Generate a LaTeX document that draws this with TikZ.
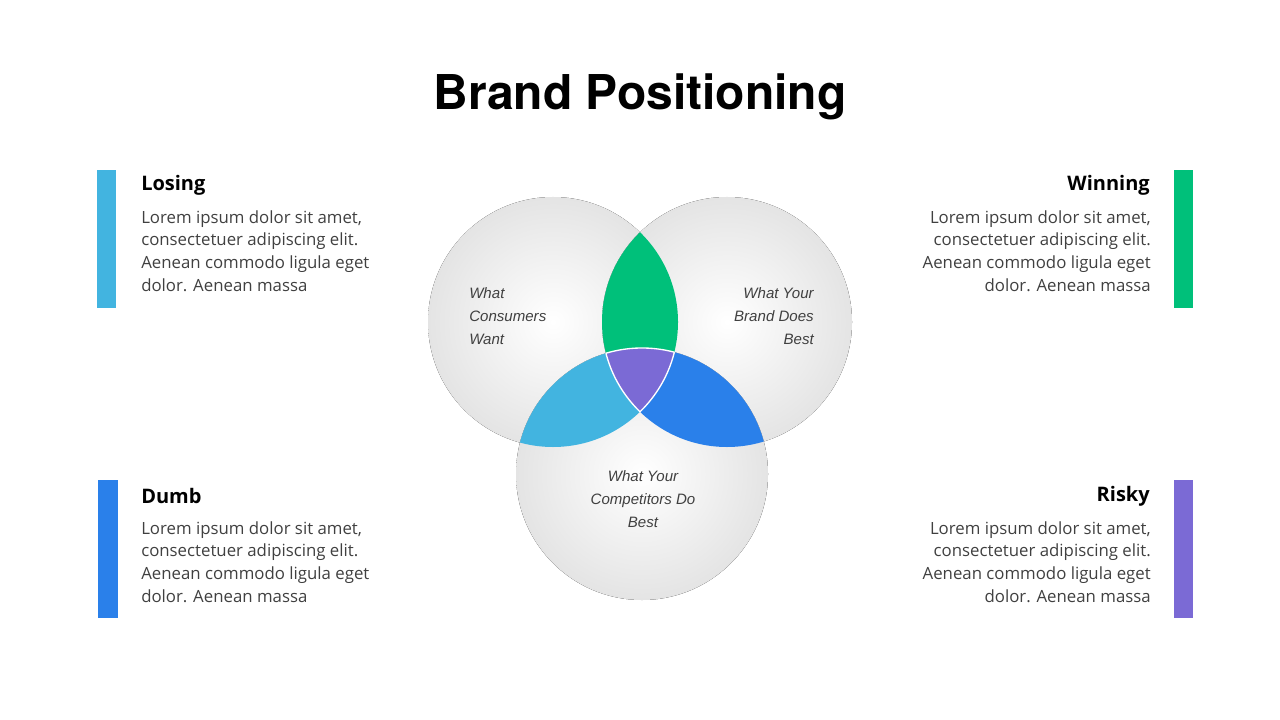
\documentclass[tikz,border=0pt]{standalone}
\usepackage{fontspec}
\setmainfont{Open Sans}
\newfontfamily\titlefont{TeX Gyre Heros}
\newfontfamily\labfont{Liberation Sans}
\definecolor{cgreen}{HTML}{00C07A}
\definecolor{ccyan}{HTML}{42B4E0}
\definecolor{cblue}{HTML}{2A80EA}
\definecolor{cpurple}{HTML}{7B6AD5}
\definecolor{ctext}{HTML}{404040}
\definecolor{cedge}{HTML}{E4E4E4}
\tikzset{
  bubble/.style={inner color=white, outer color=cedge},
  body/.style={font=\fontsize{12.6}{17.2}\selectfont, text=ctext, inner sep=0pt, anchor=north west, align=left},
  bodyr/.style={font=\fontsize{12.6}{17.2}\selectfont, text=ctext, inner sep=0pt, anchor=north east, align=right},
  head/.style={font=\fontsize{15}{18}\selectfont\bfseries, inner sep=0pt},
  clab/.style={font=\labfont\itshape\fontsize{11.3}{17.2}\selectfont, text=ctext, inner sep=0pt},
  sep/.style={draw=white, line width=1pt}
}
\begin{document}
\begin{tikzpicture}[x=0.75pt,y=-0.75pt]
\useasboundingbox (0,0) rectangle (1280,720);
\node[font=\titlefont\bfseries\fontsize{36}{40}\selectfont, inner sep=0pt] (title) at (640,97) {Brand Positioning};
\def\CA{(553,322) circle (125)}
\def\CB{(727,322) circle (125)}
\def\CC{(642,474) circle (126)}
\fill[bubble] \CA;
\fill[bubble] \CB;
\fill[bubble] \CC;
\begin{scope}\clip \CA; \clip \CB; \fill[cgreen] (400,150) rectangle (900,650);\end{scope}
\begin{scope}\clip \CA; \clip \CC; \fill[ccyan] (400,150) rectangle (900,650);\end{scope}
\begin{scope}\clip \CB; \clip \CC; \fill[cblue] (400,150) rectangle (900,650);\end{scope}
\begin{scope}\clip \CA; \clip \CB; \clip \CC; \fill[cpurple] (400,150) rectangle (900,650);\end{scope}
\begin{scope}\clip \CA; \clip \CB; \draw[sep] \CC;\end{scope}
\begin{scope}\clip \CA; \clip \CC; \draw[sep] \CB;\end{scope}
\begin{scope}\clip \CB; \clip \CC; \draw[sep] \CA;\end{scope}
\node[clab, anchor=west, align=left] (la) at (469,316) {What\\Consumers\\Want};
\node[clab, anchor=east, align=right] (lb) at (814,316) {What Your\\Brand Does\\Best};
\node[clab, align=center] (lc) at (643,499) {What Your\\Competitors Do\\Best};
% bars
\fill[ccyan] (97,170) rectangle (116,308);
\fill[cgreen] (1174,170) rectangle (1193,308);
\fill[cblue] (98,480) rectangle (118,618);
\fill[cpurple] (1174,480) rectangle (1193,618);
\node[head, anchor=west] (h1) at (141,185) {Losing};
\node[head, anchor=east] (h2) at (1150,185) {Winning};
\node[head, anchor=west] (h3) at (141,496) {Dumb};
\node[head, anchor=east] (h4) at (1150,496) {Risky};
\node[body] (b1) at (141,210) {Lorem ipsum dolor sit amet,\\consectetuer adipiscing elit.\\Aenean commodo ligula eget\\dolor. Aenean massa};
\node[bodyr] (b2) at (1151,210) {Lorem ipsum dolor sit amet,\\consectetuer adipiscing elit.\\Aenean commodo ligula eget\\dolor. Aenean massa};
\node[body] (b3) at (141,521) {Lorem ipsum dolor sit amet,\\consectetuer adipiscing elit.\\Aenean commodo ligula eget\\dolor. Aenean massa};
\node[bodyr] (b4) at (1151,521) {Lorem ipsum dolor sit amet,\\consectetuer adipiscing elit.\\Aenean commodo ligula eget\\dolor. Aenean massa};
\end{tikzpicture}
\end{document}
